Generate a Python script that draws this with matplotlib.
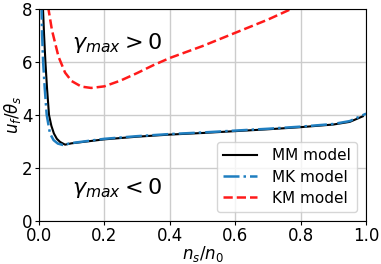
import matplotlib
matplotlib.use("Agg")
import matplotlib.pyplot as plt

# values
mm_x = [0.012, 0.016, 0.02, 0.025, 0.031, 0.038, 0.046, 0.055, 0.065, 0.08,
        0.1, 0.2, 0.3, 0.4, 0.5, 0.6, 0.7, 0.8, 0.9, 0.95, 0.99]
mm_y = [8.2, 7.0, 6.0, 5.0, 4.0, 3.6, 3.3, 3.1, 2.98, 2.88,
        2.93, 3.08, 3.18, 3.26, 3.32, 3.39, 3.46, 3.54, 3.64, 3.74, 3.95]

mk_x = [0.008, 0.01, 0.013, 0.018, 0.024, 0.034, 0.045, 0.058, 0.073,
        0.1, 0.2, 0.3, 0.4, 0.5, 0.6, 0.7, 0.8, 0.9, 0.95, 1.0]
mk_y = [8.2, 7.0, 6.0, 5.0, 4.0, 3.3, 3.05, 2.92, 2.87,
        2.94, 3.1, 3.2, 3.28, 3.34, 3.41, 3.48, 3.56, 3.66, 3.77, 4.05]

km_x = [0.028, 0.04, 0.06, 0.08, 0.1, 0.13, 0.16, 0.2, 0.25, 0.3,
        0.35, 0.4, 0.46, 0.5, 0.6, 0.7, 0.78]
km_y = [8.1, 7.2, 6.2, 5.6, 5.28, 5.07, 5.02, 5.08, 5.3, 5.58,
        5.88, 6.15, 6.42, 6.6, 7.1, 7.6, 8.05]

fig = plt.figure(figsize=(3.81, 2.64), dpi=100)
ax = fig.add_axes([0.102, 0.163, 0.859, 0.803])

ax.plot(mm_x, mm_y, color='black', lw=1.5, label='MM model')
ax.plot(mk_x, mk_y, color='#1f7ec0', lw=1.8, ls='-.', label='MK model')
ax.plot(km_x, km_y, color='#ff1a1a', lw=1.8, ls='--', label='KM model')

ax.text(0.1, 6.7, r'$\gamma_{max} > 0$', fontsize=16, va='center')
ax.text(0.1, 1.25, r'$\gamma_{max} < 0$', fontsize=16, va='center')

ax.set_xlim(0, 1)
ax.set_ylim(0, 8)
ax.set_xticks([0, 0.2, 0.4, 0.6, 0.8, 1.0])
ax.set_yticks([0, 2, 4, 6, 8])
ax.tick_params(labelsize=12, pad=1.5, length=3)
ax.grid(True, color='#cccccc', lw=1)
ax.set_xlabel(r'$n_s/n_0$', fontsize=12, labelpad=-1)
ax.set_ylabel(r'$u_f/\theta_s$', fontsize=12, labelpad=-1)
ax.legend(loc='lower right', fontsize=11, handlelength=2.2, handletextpad=1.0,
          labelspacing=0.4, borderaxespad=0.6, framealpha=0.8)

fig.savefig('out.png', dpi=100)
